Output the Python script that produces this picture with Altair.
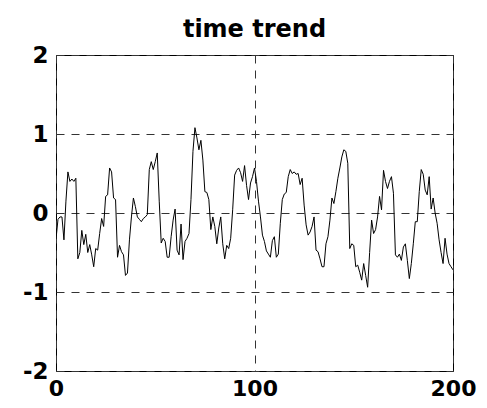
import altair as alt
import pandas as pd

values = [
    -0.33, -0.08, -0.05, -0.05, -0.34, 0.15, 0.52, 0.40, 0.43, 0.40,
    0.44, -0.58, -0.50, -0.22, -0.40, -0.27, -0.50, -0.40, -0.53, -0.68,
    -0.45, -0.47, -0.26, -0.07, -0.17, 0.21, 0.23, 0.57, 0.52, 0.19,
    0.17, -0.56, -0.41, -0.49, -0.53, -0.79, -0.76, -0.34, -0.05, 0.19,
    0.08, -0.05, -0.08, -0.11, -0.07, -0.05, -0.02, 0.55, 0.65, 0.55,
    0.65, 0.76, 0.15, -0.38, -0.32, -0.36, -0.56, -0.56, -0.30, -0.09,
    0.05, -0.47, -0.53, -0.14, -0.59, -0.36, -0.32, -0.26, 0.17, 0.78,
    1.08, 0.95, 0.80, 0.92, 0.67, 0.27, 0.26, 0.17, -0.21, -0.05,
    -0.17, -0.39, -0.19, -0.05, -0.39, -0.58, -0.41, -0.45, -0.32, 0.04,
    0.48, 0.54, 0.57, 0.51, 0.40, 0.60, 0.35, 0.17, 0.38, 0.46,
    0.57, 0.40, 0.15, -0.05, -0.28, -0.36, -0.48, -0.52, -0.56, -0.35,
    -0.30, -0.56, -0.52, -0.13, 0.17, 0.24, 0.26, 0.46, 0.55, 0.50,
    0.52, 0.49, 0.50, 0.36, 0.44, 0.10, -0.15, -0.28, -0.24, -0.17,
    -0.05, -0.47, -0.49, -0.58, -0.68, -0.68, -0.39, -0.30, -0.09, 0.19,
    0.12, 0.27, 0.44, 0.57, 0.71, 0.80, 0.78, 0.63, -0.45, -0.39,
    -0.41, -0.68, -0.66, -0.75, -0.85, -0.64, -0.79, -0.94, -0.50, -0.09,
    -0.26, -0.21, -0.05, 0.21, 0.04, 0.54, 0.40, 0.31, 0.40, 0.46,
    0.25, -0.53, -0.56, -0.52, -0.60, -0.43, -0.39, -0.60, -0.83, -0.64,
    -0.39, -0.11, -0.11, 0.27, 0.55, 0.49, 0.29, 0.23, 0.46, 0.05,
    0.19, 0.00, -0.13, -0.34, -0.50, -0.64, -0.32, -0.52, -0.64, -0.68,
    -0.72,
]
times = list(range(len(values)))
x_ticks = [0, 100, 200]
y_ticks = [-2, -1, 0, 1, 2]

df = pd.DataFrame({"t": times, "v": values})

FONT = "DejaVu Sans"

line = alt.Chart(df).mark_line(color="black", strokeWidth=1, clip=True).encode(
    x=alt.X("t:Q", scale=alt.Scale(domain=[0, 200], nice=False, zero=False),
            axis=alt.Axis(values=x_ticks, title=None, grid=True, ticks=False, tickSize=0,
                          domain=False, labelPadding=7, labelFontSize=22,
                          labelFont=FONT, labelFontWeight="bold", labelColor="black",
                          labelFlush=False, labelOverlap=False,
                          gridDash=[8, 7], gridColor="#333", gridWidth=1, gridOpacity=1)),
    y=alt.Y("v:Q", scale=alt.Scale(domain=[-2, 2], nice=False, zero=False),
            axis=alt.Axis(values=y_ticks, title=None, grid=True, ticks=False, tickSize=0,
                          domain=False, labelPadding=8, labelFontSize=23,
                          labelFont=FONT, labelFontWeight="bold", labelColor="black",
                          labelFlush=False, labelOverlap=False,
                          labelExpr="datum.value < 0 ? '-' + abs(datum.value) : '' + datum.value",
                          gridDash=[8, 7], gridColor="#333", gridWidth=1, gridOpacity=1)),
)

chart = line.properties(
    width=397,
    height=316,
    background="white",
    title=alt.TitleParams("time trend", font=FONT, fontSize=24, fontWeight="bold",
                          color="black", anchor="middle", offset=2),
    autosize=alt.AutoSizeParams(type="none"),
    padding={"left": 48, "top": 47, "right": 26, "bottom": 29},
).configure_view(stroke="black", strokeWidth=1)

chart.save("out.html", embed_options={"renderer": "svg", "actions": False})
